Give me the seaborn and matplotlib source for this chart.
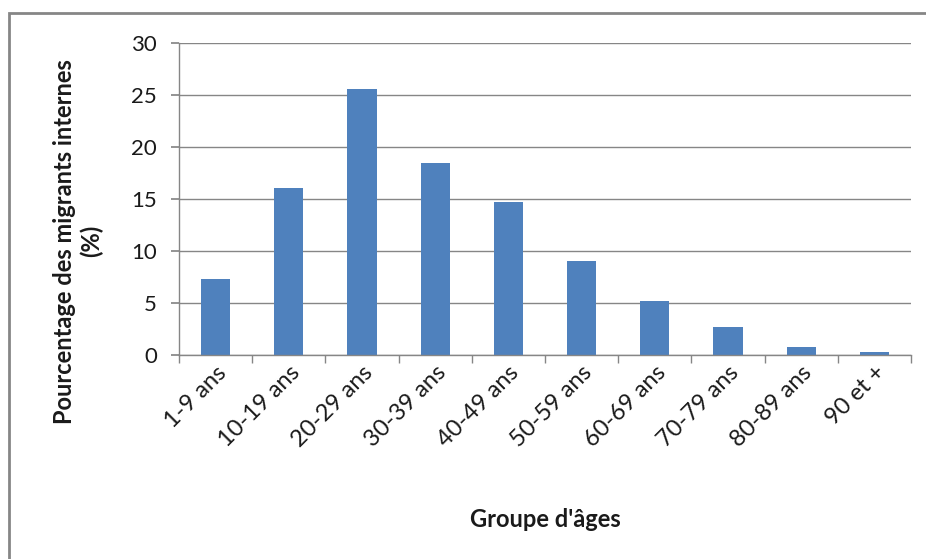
import matplotlib
matplotlib.use("Agg")
import matplotlib.pyplot as plt
import matplotlib.patches as mpatches
import seaborn as sns
import pandas as pd
import numpy as np

categories = ["1-9 ans", "10-19 ans", "20-29 ans", "30-39 ans", "40-49 ans",
              "50-59 ans", "60-69 ans", "70-79 ans", "80-89 ans", "90 et +"]
values = [7.3, 16.1, 25.6, 18.5, 14.7, 9.0, 5.2, 2.7, 0.75, 0.25]
yticks = [0, 5, 10, 15, 20, 25, 30]

sns.set_theme(style="white")
plt.rcParams['font.family'] = ['Lato', 'DejaVu Sans']

df = pd.DataFrame({"groupe": categories, "pct": values})

fig = plt.figure(figsize=(9.26, 5.59), dpi=100)
ax = fig.add_axes([179/926, 1-355/559, (911-179)/926, (355-43)/559])

sns.barplot(data=df, x="groupe", y="pct", color="#4F81BD", saturation=1,
            width=0.4, ax=ax, edgecolor="none")

gray = "#868686"
txt = "#1a1a1a"
ax.set_ylim(0, 30)
ax.set_xlim(-0.5, len(categories) - 0.5)
ax.set_yticks(yticks)
ax.set_yticklabels([str(t) for t in yticks], fontsize=16, color=txt)
ax.yaxis.grid(True, color=gray, linewidth=1)
ax.set_axisbelow(True)

for s in ["top", "right"]:
    ax.spines[s].set_visible(False)
for s in ["left", "bottom"]:
    ax.spines[s].set_color(gray)
    ax.spines[s].set_linewidth(1)

ax.tick_params(axis="y", which="major", left=True, length=6, color=gray, pad=10)
ax.tick_params(axis="x", which="major", bottom=False, length=0, pad=5)
ax.set_xticks(np.arange(-0.5, len(categories), 1.0), minor=True)
ax.tick_params(axis="x", which="minor", bottom=True, length=6, color=gray, width=1)

ax.set_xticks(range(len(categories)))
ax.set_xticklabels(categories, rotation=45, ha="right", rotation_mode="anchor",
                   fontsize=17, color=txt)

ax.set_xlabel("Groupe d'âges", fontsize=17, fontweight="bold", color=txt)
ax.xaxis.set_label_coords(0.5, -0.49)
ax.set_ylabel("Pourcentage des migrants internes\n(%)", fontsize=17,
              fontweight="bold", color=txt, linespacing=1.15)
ax.yaxis.set_label_coords(-0.104, 0.365)

# outer chart frame
fig.add_artist(mpatches.Rectangle((9/926, -0.1), 1.2, 1 - 13/559 + 0.1,
                                  transform=fig.transFigure, fill=False,
                                  edgecolor=gray, linewidth=2))

fig.savefig("out.png", dpi=100)
